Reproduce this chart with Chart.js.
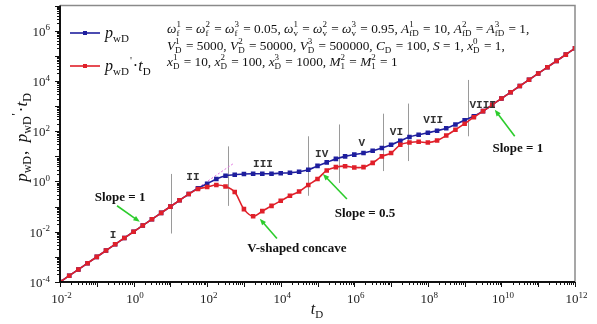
<!DOCTYPE html>
<html>
<head>
<meta charset="utf-8">
<script src="https://cdn.jsdelivr.net/npm/chart.js@4.4.0/dist/chart.umd.min.js"></script>
<style>
  html, body { margin:0; padding:0; background:#fff; }
</style>
</head>
<body>
<canvas id="c" width="597" height="324"></canvas>
<script>
// dimensionless time, 4 points per decade
const tD = [
  1e-2, 1.78e-2, 3.16e-2, 5.62e-2,
  1e-1, 1.78e-1, 3.16e-1, 5.62e-1,
  1, 1.78, 3.16, 5.62,
  10, 17.8, 31.6, 56.2,
  100, 178, 316, 562,
  1e3, 1.78e3, 3.16e3, 5.62e3,
  1e4, 1.78e4, 3.16e4, 5.62e4,
  1e5, 1.78e5, 3.16e5, 5.62e5,
  1e6, 1.78e6, 3.16e6, 5.62e6,
  1e7, 1.78e7, 3.16e7, 5.62e7,
  1e8, 1.78e8, 3.16e8, 5.62e8,
  1e9, 1.78e9, 3.16e9, 5.62e9,
  1e10, 1.78e10, 3.16e10, 5.62e10,
  1e11, 1.78e11, 3.16e11, 5.62e11,
  1e12
];
// pressure pwD
const pwD = [
  1e-4, 1.78e-4, 3.16e-4, 5.62e-4, 1e-3, 1.78e-3, 3.16e-3, 5.62e-3,
  1e-2, 1.78e-2, 3.16e-2, 5.62e-2, 0.1, 0.178, 0.316,
  0.537, 0.813, 1.26, 1.70, 1.86, 2.0, 2.04, 2.04, 2.04, 2.14,
  2.24, 2.45, 2.95, 4.17, 5.75, 7.94, 10, 11.7, 13.5, 16.6,
  21.4, 28.8, 41.7, 58.9, 72.4, 87.1, 105, 132, 186, 275,
  398, 631, 1122, 1995, 3548, 6310, 11220, 19950, 35480, 63100,
  112200, 199500
];
// pressure derivative pwD'.tD
const dpwD = [
  1e-4, 1.78e-4, 3.16e-4, 5.62e-4, 1e-3, 1.78e-3, 3.16e-3, 5.62e-3,
  1e-2, 1.78e-2, 3.16e-2, 5.62e-2, 0.1, 0.178, 0.316,
  0.50, 0.603, 0.724, 0.631, 0.380, 0.0794, 0.0417, 0.0661, 0.107, 0.170,
  0.269, 0.398, 0.724, 1.26, 2.75, 3.72, 4.07, 3.63, 3.72, 5.50,
  10, 13.5, 28.8, 35.5, 38.0, 35.5, 42.7, 67.6, 115, 200,
  363, 631, 1122, 1995, 3548, 6310, 11220, 19950, 35480, 63100,
  112200, 199500
];

// flow regime labels and dividers (data units)
const stageNames = ['I', 'II', 'III', 'IV', 'V', 'VI', 'VII', 'VIII'];
const stageT = [0.275, 41, 3300, 1.3e5, 1.6e6, 1.4e7, 1.4e8, 3.1e9];
const stageY = [7.1e-3, 1.5, 4.9, 12, 33, 89, 270, 1050];
const dividerT = [10.5, 370, 5.5e4, 3.8e5, 6e6, 2.9e7, 1.2e9];
const dividerTop = [2.0, 25, 63, 186, 500, 1260, 1.1e4];
const dividerBottom = [8.5e-3, 0.107, 0.27, 0.87, 2.6, 6.5, 63];

// callouts
const noteText = ['Slope = 1', 'V-shaped concave', 'Slope = 0.5', 'Slope = 1'];
const noteAt = [[0.43, 0.22], [2.75e4, 2.2e-3], [1.95e6, 0.052], [2.8e10, 21]];
const arrowFrom = [[0.355, 0.108], [7.9e3, 5.4e-3], [6.3e5, 0.20], [2.3e10, 63]];
const arrowTo = [[1.48, 0.025], [2.7e3, 0.033], [1.4e5, 2.0], [6.6e9, 720]];
const guideT = [70, 500];
const guideY = [0.7, 5];

const paramLines = [
  '$ω{1|f} = $ω{2|f} = $ω{3|f} = 0.05, $ω{1|v} = $ω{2|v} = $ω{3|v} = 0.95, $A{1|fD} = 10, $A{2|fD} = $A{3|fD} = 1,',
  '$V{1|D} = 5000, $V{2|D} = 50000, $V{3|D} = 500000, $C_{D} = 100, $S = 1, $x{0|D} = 1,',
  '$x{1|D} = 10, $x{2|D} = 100, $x{3|D} = 1000, $M{2|1} = $M{2|1} = 1'
];

const SERIF = '"Liberation Serif", "DejaVu Serif", serif';
const BLUE = '#1f1f9e', RED = '#e0202a', GREEN = '#2ccc2c';

// tiny markup: $X italic char, {a|b} stacked sup/sub, _{..} sub, ^{..} sup
function parse(s) {
  const runs = []; let buf = '';
  const flush = () => { if (buf) { runs.push({ t: buf, k: 'n' }); buf = ''; } };
  for (let i = 0; i < s.length; i++) {
    const c = s[i];
    if (c === '$') { flush(); runs.push({ t: s[++i], k: 'i' }); }
    else if (c === '{') { flush(); const j = s.indexOf('}', i); const [a, b] = s.slice(i + 1, j).split('|'); runs.push({ t: a, b, k: 'ss' }); i = j; }
    else if ((c === '_' || c === '^') && s[i + 1] === '{') { flush(); const j = s.indexOf('}', i); runs.push({ t: s.slice(i + 2, j), k: c === '_' ? 'sub' : 'sup' }); i = j; }
    else buf += c;
  }
  flush();
  return runs;
}

function drawRuns(ctx, runs, x, y, sz, measureOnly) {
  let cx = x;
  const small = Math.round(sz * 0.68);
  for (const r of runs) {
    if (r.k === 'n' || r.k === 'i') {
      ctx.font = `${r.k === 'i' ? 'italic ' : ''}${sz}px ${SERIF}`;
      if (!measureOnly) ctx.fillText(r.t, cx, y);
      cx += ctx.measureText(r.t).width;
    } else if (r.k === 'sub' || r.k === 'sup') {
      ctx.font = `${small}px ${SERIF}`;
      if (!measureOnly) ctx.fillText(r.t, cx, y + (r.k === 'sub' ? sz * 0.24 : -sz * 0.42));
      cx += ctx.measureText(r.t).width + 1;
    } else if (r.k === 'ss') {
      ctx.font = `${small}px ${SERIF}`;
      const w = Math.max(ctx.measureText(r.t).width, ctx.measureText(r.b).width);
      if (!measureOnly) {
        ctx.fillText(r.t, cx, y - sz * 0.42);
        ctx.fillText(r.b, cx, y + sz * 0.24);
      }
      cx += w + 1;
    }
  }
  return cx - x;
}

function arrow(ctx, x1, y1, x2, y2) {
  const ang = Math.atan2(y2 - y1, x2 - x1), h = 7;
  ctx.strokeStyle = GREEN; ctx.fillStyle = GREEN; ctx.lineWidth = 1.6;
  ctx.beginPath(); ctx.moveTo(x1, y1);
  ctx.lineTo(x2 - Math.cos(ang) * h * 0.8, y2 - Math.sin(ang) * h * 0.8); ctx.stroke();
  ctx.beginPath(); ctx.moveTo(x2, y2);
  ctx.lineTo(x2 - h * Math.cos(ang - 0.38), y2 - h * Math.sin(ang - 0.38));
  ctx.lineTo(x2 - h * Math.cos(ang + 0.38), y2 - h * Math.sin(ang + 0.38));
  ctx.closePath(); ctx.fill();
}

const decor = {
  id: 'decor',
  beforeDatasetsDraw(chart) {
    const { ctx, chartArea: a, scales: { x, y } } = chart;
    ctx.save();
    // regime dividers
    ctx.strokeStyle = '#9a9a9a'; ctx.lineWidth = 1;
    dividerT.forEach((t, i) => {
      const px = Math.round(x.getPixelForValue(t)) + 0.5;
      ctx.beginPath();
      ctx.moveTo(px, y.getPixelForValue(dividerTop[i]));
      ctx.lineTo(px, y.getPixelForValue(dividerBottom[i]));
      ctx.stroke();
    });
    // unit slope guide
    ctx.strokeStyle = '#e070e0'; ctx.setLineDash([2, 2]);
    ctx.beginPath();
    ctx.moveTo(x.getPixelForValue(guideT[0]), y.getPixelForValue(guideY[0]));
    ctx.lineTo(x.getPixelForValue(guideT[1]), y.getPixelForValue(guideY[1]));
    ctx.stroke();
    ctx.restore();
  },
  afterDraw(chart) {
    const { ctx, chartArea: a, scales: { x, y } } = chart;
    ctx.save();
    // frame
    ctx.strokeStyle = '#8a8a8a'; ctx.lineWidth = 1.5;
    ctx.beginPath();
    ctx.moveTo(a.left, a.top); ctx.lineTo(a.right, a.top); ctx.lineTo(a.right, a.bottom);
    ctx.stroke();
    ctx.strokeStyle = '#111'; ctx.lineWidth = 2;
    ctx.beginPath();
    ctx.moveTo(a.left, a.top); ctx.lineTo(a.left, a.bottom); ctx.lineTo(a.right, a.bottom);
    ctx.stroke();

    // ticks
    ctx.lineWidth = 1;
    for (let n = -2; n <= 12; n++) {
      for (let k = 1; k <= 9; k++) {
        const v = k * Math.pow(10, n);
        if (v > 1e12 * 1.0001) break;
        const px = Math.round(x.getPixelForValue(v)) + 0.5;
        const len = k === 1 ? 5 : 3;
        ctx.beginPath(); ctx.moveTo(px, a.bottom); ctx.lineTo(px, a.bottom + len); ctx.stroke();
      }
    }
    for (let n = -4; n <= 7; n++) {
      for (let k = 1; k <= 9; k++) {
        const v = k * Math.pow(10, n);
        if (v > 1e7 * 1.0001) break;
        const py = Math.round(y.getPixelForValue(v)) + 0.5;
        const len = k === 1 ? 5 : 3;
        ctx.beginPath(); ctx.moveTo(a.left, py); ctx.lineTo(a.left - len, py); ctx.stroke();
      }
    }

    // tick labels
    ctx.fillStyle = '#222'; ctx.textBaseline = 'alphabetic'; ctx.textAlign = 'left';
    for (let n = -2; n <= 12; n += 2) {
      const runs = [{ t: '10', k: 'n' }, { t: String(n), k: 'sup' }];
      const w = drawRuns(ctx, runs, 0, 0, 13, true);
      drawRuns(ctx, runs, x.getPixelForValue(Math.pow(10, n)) - w / 2 + 2, a.bottom + 21, 13);
    }
    for (let n = -4; n <= 6; n += 2) {
      const runs = [{ t: '10', k: 'n' }, { t: String(n), k: 'sup' }];
      const w = drawRuns(ctx, runs, 0, 0, 13, true);
      drawRuns(ctx, runs, a.left - 9 - w, y.getPixelForValue(Math.pow(10, n)) + 5, 13);
    }

    // axis titles
    ctx.fillStyle = '#111';
    const xt = parse('$t_{D}');
    const xw = drawRuns(ctx, xt, 0, 0, 16, true);
    drawRuns(ctx, xt, (a.left + a.right) / 2 - xw / 2, a.bottom + 32, 16);
    const yt = parse('$p_{wD},  $p_{wD}^{\'}·$t_{D}');
    const yw = drawRuns(ctx, yt, 0, 0, 17, true);
    ctx.save();
    ctx.translate(27, 137); ctx.rotate(-Math.PI / 2);
    drawRuns(ctx, yt, -yw / 2, 0, 17);
    ctx.restore();

    // legend
    const leg = [[BLUE, '$p_{wD}', 33], [RED, '$p_{wD}^{\'}·$t_{D}', 66]];
    leg.forEach(([col, txt, ly]) => {
      ctx.strokeStyle = col; ctx.lineWidth = 1.6;
      ctx.beginPath(); ctx.moveTo(a.left + 10, ly); ctx.lineTo(a.left + 40, ly); ctx.stroke();
      ctx.fillStyle = col; ctx.fillRect(a.left + 23, ly - 2, 4, 4);
      ctx.fillStyle = '#111';
      drawRuns(ctx, parse(txt), a.left + 45, ly + 5, 16);
    });

    // parameter block
    paramLines.forEach((s, i) => drawRuns(ctx, parse(s), a.left + 107, 33 + i * 16.5, 13.3));

    // regime labels
    ctx.font = 'bold 11px "Liberation Mono", monospace';
    ctx.fillStyle = '#333'; ctx.textAlign = 'center'; ctx.textBaseline = 'middle';
    stageNames.forEach((s, i) => ctx.fillText(s, x.getPixelForValue(stageT[i]), y.getPixelForValue(stageY[i])));

    // callouts
    noteText.forEach((s, i) => {
      arrow(ctx, x.getPixelForValue(arrowFrom[i][0]), y.getPixelForValue(arrowFrom[i][1]),
        x.getPixelForValue(arrowTo[i][0]), y.getPixelForValue(arrowTo[i][1]));
      ctx.font = `bold 13px ${SERIF}`; ctx.fillStyle = '#111';
      ctx.textAlign = 'center'; ctx.textBaseline = 'middle';
      ctx.fillText(s, x.getPixelForValue(noteAt[i][0]), y.getPixelForValue(noteAt[i][1]));
    });
    ctx.restore();
  }
};

const series = (ys) => tD.map((t, i) => ({ x: t, y: ys[i] }));

new Chart(document.getElementById('c'), {
  type: 'line',
  data: {
    datasets: [
      { label: 'pwD', data: series(pwD), borderColor: BLUE, backgroundColor: BLUE,
        borderWidth: 1.6, pointStyle: 'rect', pointRadius: 2.1, tension: 0.35, order: 2 },
      { label: "pwD'.tD", data: series(dpwD), borderColor: RED, backgroundColor: RED,
        borderWidth: 1.6, pointStyle: 'rect', pointRadius: 2.1, tension: 0.35, order: 1 }
    ]
  },
  options: {
    responsive: false, animation: false, devicePixelRatio: 1,
    layout: { padding: { left: 60, right: 22, top: 3, bottom: 42 } },
    plugins: { legend: { display: false }, tooltip: { enabled: false } },
    scales: {
      x: { type: 'logarithmic', min: 1e-2, max: 1e12, display: false },
      y: { type: 'logarithmic', min: 1e-4, max: 1e7, display: false }
    }
  },
  plugins: [decor]
});
</script>
</body>
</html>
